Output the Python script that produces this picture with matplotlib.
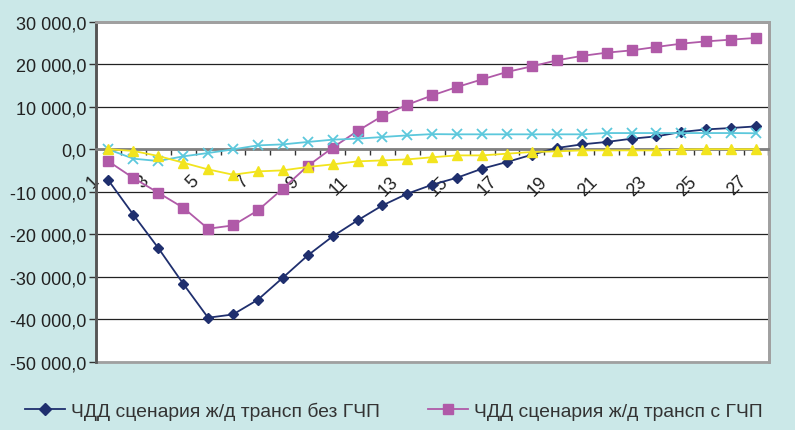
import matplotlib
matplotlib.use("Agg")
import matplotlib.pyplot as plt
from matplotlib.lines import Line2D
from matplotlib.patches import Rectangle
from matplotlib.ticker import FuncFormatter, FixedLocator
from matplotlib.transforms import ScaledTranslation
import numpy as np

# Years of the forecast horizon
periods = list(range(1, 28))

# ЧДД (net discounted cash flow) by scenario
npv_rail_no_ppp = [-7350, -15430, -23270, -31680, -39690, -38920, -35450, -30270, -25020,
                   -20540, -16770, -13240, -10480, -8360, -6710, -4590, -3020, -1300,
                   280, 1130, 1700, 2470, 3020, 4050, 4660, 4990, 5370]
npv_rail_ppp = [-2870, -6790, -10250, -13780, -18730, -17950, -14420, -9300, -3960,
                350, 4290, 7820, 10480, 12670, 14650, 16440, 18190, 19510,
                20920, 21960, 22730, 23270, 24080, 24850, 25390, 25800, 26200]
npv_series_3 = [-50, -2240, -2780, -1690, -900, -50, 900, 1130, 1700,
                2240, 2470, 2870, 3250, 3550, 3500, 3500, 3500, 3500,
                3500, 3500, 3800, 3800, 3800, 3800, 3800, 3800, 3750]
npv_series_4 = [0, -420, -1600, -3180, -4760, -6010, -5230, -4990, -4190,
                -3580, -2870, -2640, -2400, -1900, -1460, -1460, -1060, -660,
                -520, -280, -280, -280, -280, -50, 0, 0, 0]

legend_labels = ["ЧДД сценария ж/д трансп без ГЧП", "ЧДД сценария ж/д трансп с ГЧП"]

bg = "#cbe8e8"
c_navy = "#1f2f6e"
c_mag = "#b05aa8"
c_cyan = "#5cc8dc"
c_yel = "#f2e41e"
txt = "#222222"

DPI = 100
plt.rcParams["font.family"] = ["Liberation Sans", "DejaVu Sans"]

fig = plt.figure(figsize=(7.95, 4.31), dpi=DPI, facecolor=bg)
W, H = 795, 431
ax = fig.add_axes([96 / W, 1 - 362.5 / H, (768.5 - 96) / W, (362.5 - 22.8) / H])
ax.set_facecolor("white")

x = np.array(periods)
ax.plot(x, npv_rail_no_ppp, color=c_navy, lw=1.3, marker="D", ms=5.5, zorder=3)
ax.plot(x, npv_rail_ppp, color=c_mag, lw=1.3, marker="s", ms=6.5, zorder=4)
ax.plot(x, npv_series_3, color=c_cyan, lw=1.3, marker="x", ms=7, mew=1.3, zorder=5)
ax.plot(x, npv_series_4, color=c_yel, lw=1.3, marker="^", ms=7.5, zorder=6)

ax.set_xlim(0.5, len(periods) + 0.5)
ax.set_ylim(-50000, 30000)

# horizontal grid
ax.set_yticks(np.arange(-50000, 30001, 10000))
ax.yaxis.grid(True, color="#222222", lw=0.9)
ax.set_axisbelow(True)
ax.yaxis.set_major_formatter(FuncFormatter(
    lambda v, p: f"{int(v):,}".replace(",", " ") + ",0"))
ax.tick_params(axis="y", direction="out", length=5, width=1, color="#333333",
               labelsize=13, labelcolor=txt, pad=2)

# category axis crosses at zero
ax.spines["bottom"].set_position(("data", 0))
ax.spines["bottom"].set_color("#808080")
ax.spines["bottom"].set_linewidth(2)
ax.spines["bottom"].set_zorder(2.5)
ax.spines["left"].set_color("#555555")
ax.spines["left"].set_linewidth(2)
for s in ("top", "right"):
    ax.spines[s].set_color("#a0a0a0")
    ax.spines[s].set_linewidth(2)
ax.add_patch(Rectangle((0, 0), 1, 1, transform=ax.transAxes, fill=False,
                       edgecolor="#a0a0a0", lw=2, clip_on=False, zorder=1))

ax.xaxis.set_major_locator(FixedLocator([]))
ax.xaxis.set_minor_locator(FixedLocator(np.arange(0.5, len(periods) + 1, 1)))
ax.tick_params(axis="x", which="minor", direction="out", length=4, width=1, color="#333333")

# rotated category labels below the zero line
lab_off = ScaledTranslation(-6 / DPI, -35 / DPI, fig.dpi_scale_trans)
for p in periods[::2]:
    ax.text(p, 0, str(p), transform=ax.transData + lab_off, rotation=45,
            rotation_mode="anchor", ha="right", va="bottom", fontsize=13, color=txt,
            zorder=2)

handles = [
    Line2D([], [], color=c_navy, lw=1.3, marker="D", ms=6),
    Line2D([], [], color=c_mag, lw=1.3, marker="s", ms=7),
]


def make_legend(fs):
    px = fs * DPI / 72
    return fig.legend(handles, legend_labels, loc="center left",
                      bbox_to_anchor=(25 / W, 1 - 412 / H), ncol=2, frameon=False,
                      borderpad=0, borderaxespad=0,
                      handlelength=40 / px, handletextpad=6 / px, columnspacing=48 / px,
                      labelcolor="#333333",
                      prop={"family": ["Liberation Sans", "DejaVu Sans"], "size": fs})


fs = 12.0
leg = make_legend(fs)
fig.canvas.draw()
w0 = leg.get_texts()[0].get_window_extent().width
leg.remove()
fs = fs * 307 / w0
leg = make_legend(fs)

fig.savefig("out.png", dpi=DPI, facecolor=bg)
